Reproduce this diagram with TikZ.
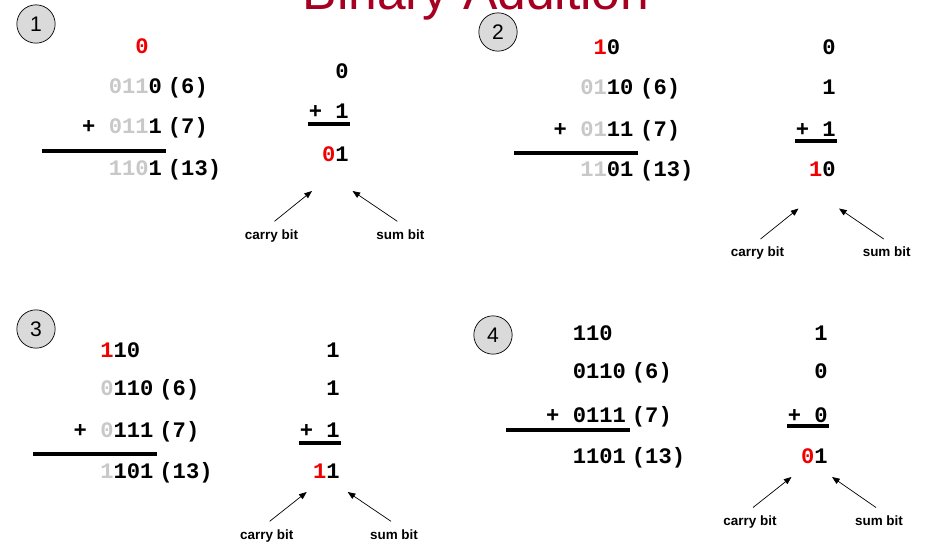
\documentclass[tikz,border=0pt]{standalone}
\usepackage{fontspec}
\setmainfont{Liberation Sans}
\setmonofont{Liberation Mono}
\usetikzlibrary{arrows.meta}
\usepackage{xcolor}
\definecolor{carryred}{RGB}{240,0,0}
\definecolor{fadegray}{RGB}{200,200,200}
\definecolor{titlered}{RGB}{165,0,33}
\definecolor{stepfill}{RGB}{218,218,218}
\newcommand{\rd}[1]{\textcolor{carryred}{#1}}
\newcommand{\gr}[1]{\textcolor{fadegray}{#1}}

\begin{document}
\begin{tikzpicture}[
        x=0.03cm, y=-0.03cm,
        bits/.style={font=\ttfamily\bfseries\fontsize{18.9}{20}\selectfont, inner sep=0pt},
        num/.style={bits, anchor=base east},
        dec/.style={bits, anchor=base west},
        stepno/.style={circle, draw, line width=0.6pt, fill=stepfill, minimum size=1.15cm, inner sep=0pt, font=\fontsize{18}{20}\selectfont},
        lbl/.style={font=\bfseries\fontsize{11.5}{13}\selectfont, inner sep=0pt, anchor=base},
        arr/.style={-{Triangle[length=2.3mm, width=1.8mm]}, line width=0.6pt},
        sumline/.style={line width=2.8pt}
    ]
        \useasboundingbox (0,0) rectangle (930,544);
        \node[font=\fontsize{44}{44}\selectfont, text=titlered, anchor=base] (title) at (476,10) {Binary Addition};

        % Step 1
        \node[stepno] (s1) at (36,24) {1};
        \node[num] (c1) at (148.9,53.3) {\rd{0}};
        \node[num] (a1) at (162.2,93.3) {\gr{011}0};
        \node[dec] (da1) at (167.7,93.3) {(6)};
        \node[num] (b1) at (162.2,133.3) {+ \gr{011}1};
        \node[dec] (db1) at (167.7,133.3) {(7)};
        \draw[sumline] (42,151) -- (166,151);
        \node[num] (r1) at (162.2,175.7) {\gr{110}1};
        \node[dec] (dr1) at (167.7,175.7) {(13)};
        \node[num] (x1) at (349,78.3) {0};
        \node[num] (y1) at (349,118.3) {+ 1};
        \draw[sumline] (308,124) -- (350,124);
        \node[num] (z1) at (349,161.7) {\rd{0}1};
        \coordinate (ct1) at (312,191);
        \coordinate (st1) at (352.5,191);
        \node[lbl] (cb1) at (271.5,239.3) {carry bit};
        \node[lbl] (sb1) at (400.3,239.3) {sum bit};
        \draw[arr] ([shift={(3,-8)}]cb1.north) -- (ct1);
        \draw[arr] ([shift={(-3,-8)}]sb1.north) -- (st1);

        % Step 2
        \node[stepno] (s2) at (498,32) {2};
        \node[num] (c2) at (620.4,55) {\rd{1}0};
        \node[num] (a2) at (633.7,95) {\gr{01}10};
        \node[dec] (da2) at (640,95) {(6)};
        \node[num] (b2) at (633.7,136.7) {+ \gr{01}11};
        \node[dec] (db2) at (640,136.7) {(7)};
        \draw[sumline] (514,153) -- (638,153);
        \node[num] (r2) at (633.7,176.7) {\gr{11}01};
        \node[dec] (dr2) at (640,176.7) {(13)};
        \node[num] (w2) at (836,55) {0};
        \node[num] (x2) at (836,95) {1};
        \node[num] (y2) at (836,136.7) {+ 1};
        \draw[sumline] (795,141) -- (837,141);
        \node[num] (z2) at (836,176.7) {\rd{1}0};
        \coordinate (ct2) at (798.5,208.5);
        \coordinate (st2) at (839,208.5);
        \node[lbl] (cb2) at (757.5,257) {carry bit};
        \node[lbl] (sb2) at (886.7,257) {sum bit};
        \draw[arr] ([shift={(3,-8)}]cb2.north) -- (ct2);
        \draw[arr] ([shift={(-3,-8)}]sb2.north) -- (st2);

        % Step 3
        \node[stepno] (s3) at (36,329) {3};
        \node[num] (c3) at (140.4,357) {\rd{1}10};
        \node[num] (a3) at (153.7,395.3) {\gr{0}110};
        \node[dec] (da3) at (159.2,395.3) {(6)};
        \node[num] (b3) at (153.7,437) {+ \gr{0}111};
        \node[dec] (db3) at (159.2,437) {(7)};
        \draw[sumline] (33,454) -- (157,454);
        \node[num] (r3) at (153.7,478.7) {\gr{1}101};
        \node[dec] (dr3) at (159.2,478.7) {(13)};
        \node[num] (w3) at (340,357) {1};
        \node[num] (x3) at (340,395.3) {1};
        \node[num] (y3) at (340,437) {+ 1};
        \draw[sumline] (299,443) -- (341,443);
        \node[num] (z3) at (340,478.7) {\rd{1}1};
        \coordinate (ct3) at (306.7,492);
        \coordinate (st3) at (347.7,492);
        \node[lbl] (cb3) at (266.7,539.3) {carry bit};
        \node[lbl] (sb3) at (394,539.3) {sum bit};
        \draw[arr] ([shift={(3,-8)}]cb3.north) -- (ct3);
        \draw[arr] ([shift={(-3,-8)}]sb3.north) -- (st3);

        % Step 4
        \node[stepno] (s4) at (493,335) {4};
        \node[num] (c4) at (612.9,340.3) {110};
        \node[num] (a4) at (626.2,378.7) {0110};
        \node[dec] (da4) at (631.7,378.7) {(6)};
        \node[num] (b4) at (626.2,422) {+ 0111};
        \node[dec] (db4) at (631.7,422) {(7)};
        \draw[sumline] (506,430) -- (630,430);
        \node[num] (r4) at (626.2,463.7) {1101};
        \node[dec] (dr4) at (631.7,463.7) {(13)};
        \node[num] (w4) at (828,340.3) {1};
        \node[num] (x4) at (828,378.7) {0};
        \node[num] (y4) at (828,422) {+ 0};
        \draw[sumline] (787,426) -- (829,426);
        \node[num] (z4) at (828,463.7) {\rd{0}1};
        \coordinate (ct4) at (791.5,477);
        \coordinate (st4) at (832,477);
        \node[lbl] (cb4) at (750,525.5) {carry bit};
        \node[lbl] (sb4) at (879,525.5) {sum bit};
        \draw[arr] ([shift={(3,-8)}]cb4.north) -- (ct4);
        \draw[arr] ([shift={(-3,-8)}]sb4.north) -- (st4);
    \end{tikzpicture}
\end{document}
